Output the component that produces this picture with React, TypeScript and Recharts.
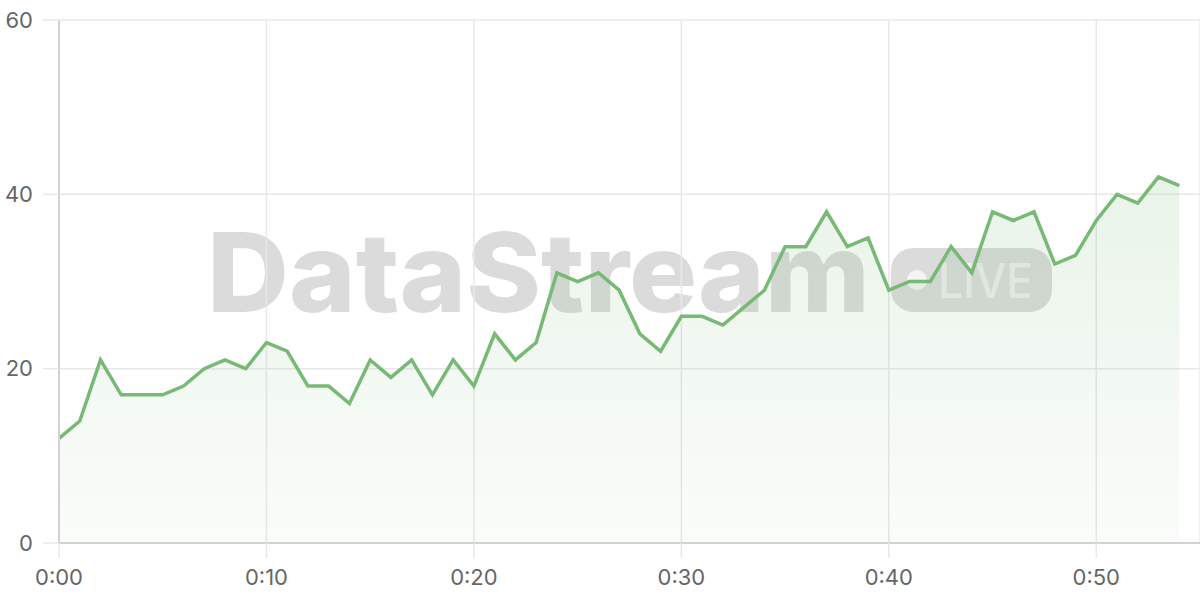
import {
  ComposedChart,
  Area,
  XAxis,
  YAxis,
  CartesianGrid,
} from "recharts";

// minutes since start of the stream
const minutes = [
  0, 1, 2, 3, 4, 5, 6, 7, 8, 9, 10, 11, 12, 13, 14, 15, 16, 17, 18, 19, 20, 21,
  22, 23, 24, 25, 26, 27, 28, 29, 30, 31, 32, 33, 34, 35, 36, 37, 38, 39, 40,
  41, 42, 43, 44, 45, 46, 47, 48, 49, 50, 51, 52, 53, 54,
];

const viewers = [
  12, 14, 21, 17, 17, 17, 18, 20, 21, 20, 23, 22, 18, 18, 16, 21, 19, 21, 17,
  21, 18, 24, 21, 23, 31, 30, 31, 29, 24, 22, 26, 26, 25, 27, 29, 34, 34, 38,
  34, 35, 29, 30, 30, 34, 31, 38, 37, 38, 32, 33, 37, 40, 39, 42, 41,
];

const xTicks = [0, 10, 20, 30, 40, 50];
const yTicks = [0, 20, 40, 60];

const data = minutes.map((m, i) => ({ t: m, v: viewers[i] }));

const GREEN = "#78b976";
const GRID = "#e8e8e8";
const AXIS = "#d2d2d2";
const LABEL = "#666";

function fmtTime(m: number): string {
  const h = Math.floor(m / 60);
  const mm = m % 60;
  return `${h}:${mm < 10 ? "0" + mm : mm}`;
}

function Watermark() {
  const shade = "rgba(0,0,0,0.14)";
  return (
    <svg
      width={1200}
      height={600}
      style={{ position: "absolute", left: 0, top: 0 }}
    >
      <text
        x={207}
        y={312}
        fontFamily="Inter, 'DejaVu Sans', sans-serif"
        fontWeight={800}
        fontSize={110}
        fill={shade}
        textLength={663}
        lengthAdjust="spacingAndGlyphs"
      >
        DataStream
      </text>
      <rect x={891} y={248} width={161} height={64} rx={22} fill={shade} />
      <circle cx={917} cy={280} r={10} fill="rgba(255,255,255,0.7)" />
      <text
        x={938}
        y={298}
        fontFamily="Inter, 'DejaVu Sans', sans-serif"
        fontWeight={500}
        fontSize={48}
        fill="rgba(255,255,255,0.55)"
        textLength={95}
        lengthAdjust="spacingAndGlyphs"
      >
        LIVE
      </text>
    </svg>
  );
}

export default function App() {
  return (
    <div
      style={{
        position: "absolute",
        left: 0,
        top: 0,
        width: 1200,
        height: 600,
        background: "#fff",
        fontFamily: "Inter, sans-serif",
      }}
    >
      <Watermark />
      <div style={{ position: "absolute", left: 0, top: 0 }}>
        <ComposedChart
          width={1200}
          height={600}
          data={data}
          margin={{ top: 20, right: 0, left: 0, bottom: 0 }}
        >
          <defs>
            <linearGradient id="viewFill" x1="0" y1="0" x2="0" y2="1">
              <stop offset="0%" stopColor={GREEN} stopOpacity={0.27} />
              <stop offset="100%" stopColor={GREEN} stopOpacity={0.06} />
            </linearGradient>
          </defs>
          <CartesianGrid stroke={GRID} strokeWidth={1.5} />
          <XAxis
            dataKey="t"
            type="number"
            domain={[0, 55]}
            ticks={xTicks}
            tickFormatter={fmtTime}
            height={57}
            tickSize={15}
            tickMargin={11}
            tickLine={{ stroke: GRID, strokeWidth: 1.5 }}
            axisLine={{ stroke: AXIS, strokeWidth: 2 }}
            tick={{ fill: LABEL, fontSize: 22 }}
          />
          <YAxis
            type="number"
            domain={[0, 60]}
            ticks={yTicks}
            width={59}
            tickSize={16}
            tickMargin={10}
            tickLine={{ stroke: GRID, strokeWidth: 1.5 }}
            axisLine={{ stroke: AXIS, strokeWidth: 2 }}
            tick={{ fill: LABEL, fontSize: 22 }}
          />
          <Area
            type="linear"
            dataKey="v"
            stroke={GREEN}
            strokeWidth={3.5}
            fill="url(#viewFill)"
            dot={false}
            activeDot={false}
            isAnimationActive={false}
          />
        </ComposedChart>
      </div>
    </div>
  );
}
